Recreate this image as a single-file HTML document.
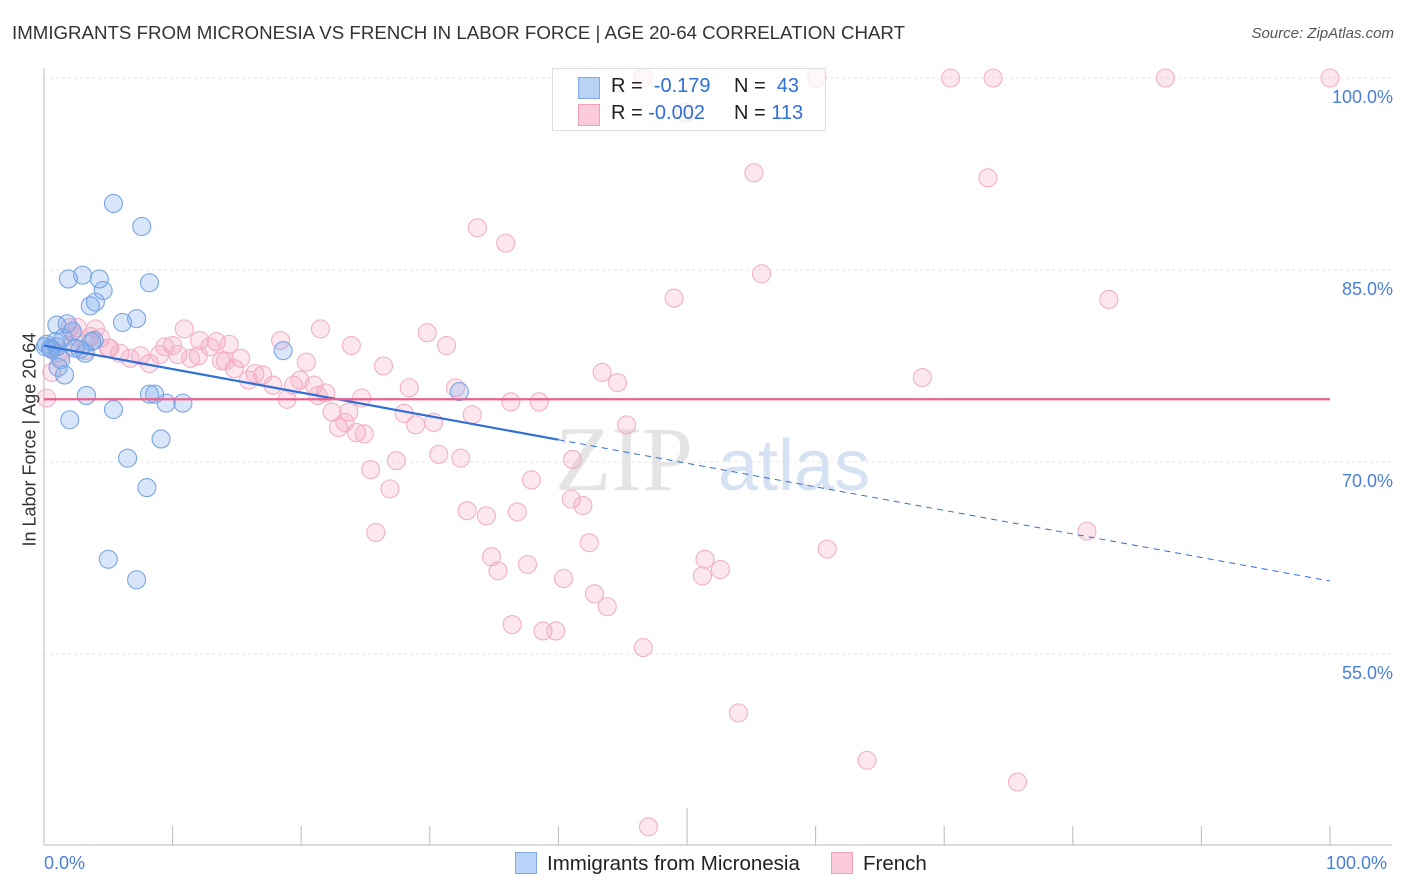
<!DOCTYPE html>
<html><head><meta charset="utf-8">
<style>
body{margin:0;background:#fff;font-family:"Liberation Sans",sans-serif;}
#wrap{position:relative;width:1406px;height:892px;overflow:hidden;}
.t{position:absolute;white-space:nowrap;}
</style></head>
<body>
<div id="wrap">
<div class="t" style="left:12px;top:22px;font-size:18.7px;color:#333;">IMMIGRANTS FROM MICRONESIA VS FRENCH IN LABOR FORCE | AGE 20-64 CORRELATION CHART</div>
<div class="t" style="right:12px;top:25px;font-size:15px;color:#555;font-style:italic;">Source: ZipAtlas.com</div>
<svg id="svg" width="1406" height="892" style="position:absolute;left:0;top:0"></svg>
</div>
<script>
const yTicks=[100,85,70,55];
const yTickLabels=["100.0%","85.0%","70.0%","55.0%"];
const xTicks=[0,10,20,30,40,50,60,70,80,90,100];
const blueX=[5.4,7.6,1.9,3.0,4.3,4.6,4.0,3.6,8.2,7.2,6.1,1.0,1.8,0.1,0.9,0.5,2.4,3.2,3.9,1.3,1.6,3.3,5.4,2.0,8.2,8.6,9.5,10.8,9.1,6.5,8.0,5.0,7.2,18.6,32.3,1.0,2.2,2.8,0.2,1.5,3.7,0.6,1.1];
const blueY=[90.2,88.4,84.3,84.6,84.3,83.4,82.5,82.2,84.0,81.2,80.9,80.7,80.8,79.0,79.4,78.9,78.9,78.5,79.5,78.0,76.8,75.2,74.1,73.3,75.3,75.3,74.6,74.6,71.8,70.3,68.0,62.4,60.8,78.7,75.5,79.0,80.2,78.8,79.2,79.7,79.4,78.8,77.4];
const pinkX=[46.6,60.1,70.5,73.8,87.2,100,49.9,55.2,73.4,33.7,35.9,55.8,49.0,82.8,10.9,21.5,29.8,13.4,14.4,23.9,31.3,10.0,18.4,9.0,12.0,15.3,20.4,26.4,43.4,68.3,44.6,28.4,32.0,36.3,38.5,17.0,17.8,19.4,21.9,21.0,23.7,22.9,24.3,24.9,28.0,28.9,30.3,33.3,45.3,41.1,37.9,30.7,32.4,27.4,25.4,26.9,41.0,41.9,32.9,34.4,36.8,25.8,81.1,42.4,60.9,34.8,37.6,35.3,51.4,52.6,51.2,40.4,42.8,43.8,36.4,38.8,39.8,46.6,54.0,64.0,75.7,47.0,0.2,0.6,1.2,2.0,2.6,3.6,4.4,5.1,5.9,6.7,7.5,8.2,9.4,10.4,11.4,12.9,13.8,14.8,15.9,16.4,18.9,19.9,21.3,22.4,23.4,24.7,2.1,3.2,1.1,4.0,2.4,5.0,12.1,14.1];
const pinkY=[100,100,100,100,100,100,97.3,92.6,92.2,88.3,87.1,84.7,82.8,82.7,80.4,80.4,80.1,79.4,79.2,79.1,79.1,79.1,79.5,78.4,78.3,78.1,77.8,77.5,77.0,76.6,76.2,75.8,75.8,74.7,74.7,76.8,76.0,76.0,75.4,76.0,73.9,72.7,72.3,72.2,73.8,72.9,73.1,73.7,72.9,70.2,68.6,70.6,70.3,70.1,69.4,67.9,67.1,66.6,66.2,65.8,66.1,64.5,64.6,63.7,63.2,62.6,62.0,61.5,62.4,61.6,61.1,60.9,59.7,58.7,57.3,56.8,56.8,55.5,50.4,46.7,45.0,41.5,75.0,77.0,78.2,80.5,80.5,79.8,79.7,78.9,78.5,78.1,78.3,77.7,79.0,78.4,78.1,79.0,77.9,77.3,76.4,76.9,74.9,76.4,75.2,73.9,73.1,75.0,79.1,78.7,78.5,80.4,79.8,78.9,79.5,77.9];
const blueFit=[79.1,60.7];
const pinkFit=[74.9,74.9];
const blueSolidEnd=40;

const NS="http://www.w3.org/2000/svg",svg=document.getElementById('svg');
const X0=44,X1=1330,Y100=78,PX15=192,YB=845;
const sx=v=>X0+(X1-X0)*v/100;
const sy=v=>Y100+(100-v)*PX15/15;
function mk(tag,at,parent){const e=document.createElementNS(NS,tag);for(const k in at)e.setAttribute(k,at[k]);(parent||svg).appendChild(e);return e;}
yTicks.forEach((t,i)=>{
 const g=mk('line',{x1:X0,x2:1392,y1:sy(t),y2:sy(t),stroke:'#e6e6e6','stroke-dasharray':'3,3'});
 
 
 const tx=mk('text',{x:1393,y:sy(t)+25,'text-anchor':'end','font-size':18,fill:'#4a7fd6','font-family':'Liberation Sans, sans-serif'});
 tx.textContent=yTickLabels[i];
 
 
});
mk('line',{x1:X0,x2:X0,y1:68,y2:YB,stroke:'#bbb'});
mk('line',{x1:X0,x2:1392,y1:YB,y2:YB,stroke:'#bbb'});
xTicks.forEach(t=>{
 const l=mk('line',{x1:sx(t),x2:sx(t),y1:t==50?808:826,y2:YB,stroke:'#bbb'});
 
 
});
const wm=mk('text',{x:555,y:490,'font-size':92,fill:'#e4e4e4','font-family':'Liberation Serif, serif'});wm.textContent='ZIP';


const wm2=mk('text',{x:718,y:490,'font-size':72,fill:'#d6e2f4','font-family':'Liberation Sans, sans-serif'});wm2.textContent='atlas';


pinkX.forEach((x,i)=>{
 const c=mk('circle',{cx:sx(x),cy:sy(pinkY[i]),r:9,fill:'rgba(244,160,188,0.25)',stroke:'#f2b0c6','stroke-width':1.1});
 
 
});
blueX.forEach((x,i)=>{
 const c=mk('circle',{cx:sx(x),cy:sy(blueY[i]),r:9,fill:'rgba(120,165,235,0.28)',stroke:'#78a5e6','stroke-width':1.1});
 
 
});
const bAt=v=>blueFit[0]+(blueFit[1]-blueFit[0])*v/100;
const bl=mk('line',{x1:sx(0),y1:sy(bAt(0)),x2:sx(blueSolidEnd),y2:sy(bAt(blueSolidEnd)),stroke:'#2f6fd6','stroke-width':2.2});


const bd=mk('line',{x1:sx(blueSolidEnd),y1:sy(bAt(blueSolidEnd)),x2:sx(100),y2:sy(bAt(100)),stroke:'#2f6fd6','stroke-width':1,'stroke-dasharray':'6,5'});


const pl=mk('line',{x1:sx(0),y1:sy(pinkFit[0]),x2:sx(100),y2:sy(pinkFit[1]),stroke:'#e8608f','stroke-width':2.2});


</script>
<div class="t" style="left:-60px;top:446px;width:180px;text-align:center;transform:rotate(-90deg);font-size:18px;color:#333;">In Labor Force | Age 20-64</div>
<div class="t" style="left:44px;top:853px;font-size:18px;color:#4a7fd6;">0.0%</div>
<div class="t" style="left:1326px;top:853px;font-size:18px;color:#4a7fd6;">100.0%</div>
<div style="position:absolute;left:552px;top:68px;width:272px;height:61px;border:1px solid #ddd;background:rgba(255,255,255,0.7);font-size:20px;">
 <div style="position:absolute;left:25px;top:8px;width:20px;height:20px;background:#b8d3f5;border:1px solid #7fa8e6;"></div>
 <div class="t" style="left:58px;top:6px;color:#222;">R = <span style="color:#2f6fd6">&nbsp;-0.179</span></div>
 <div class="t" style="left:181px;top:6px;color:#222;">N = <span style="color:#2f6fd6">&nbsp;43</span></div>
 <div style="position:absolute;left:25px;top:35px;width:20px;height:20px;background:#fbcbd9;border:1px solid #f0a0b8;"></div>
 <div class="t" style="left:58px;top:33px;color:#222;">R = <span style="color:#2f6fd6">-0.002</span></div>
 <div class="t" style="left:181px;top:33px;color:#222;">N = <span style="color:#2f6fd6">113</span></div>
</div>
<div style="position:absolute;left:515px;top:852px;font-size:20.5px;color:#222;">
 <span style="position:absolute;left:0;top:0;white-space:nowrap;"><span style="display:inline-block;width:20px;height:20px;background:#b8d3f5;border:1px solid #7fa8e6;vertical-align:-4px;margin-right:10px;"></span>Immigrants from Micronesia</span>
 <span style="position:absolute;left:316px;top:0;white-space:nowrap;"><span style="display:inline-block;width:20px;height:20px;background:#fbcbd9;border:1px solid #f0a0b8;vertical-align:-4px;margin-right:10px;"></span>French</span>
</div>
</body></html>
